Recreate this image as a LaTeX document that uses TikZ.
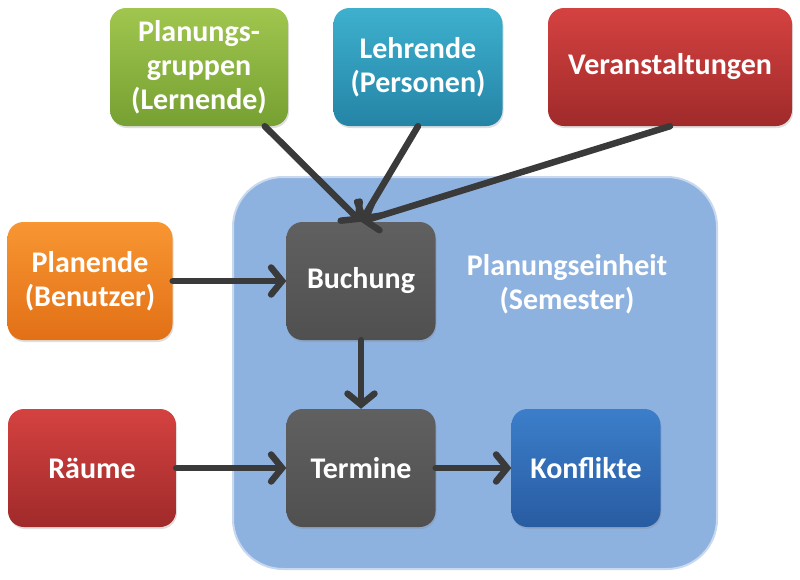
\documentclass[tikz,border=0pt]{standalone}
\usepackage{fontspec}
\setmainfont{Carlito}
\usepackage{tikz}
\usetikzlibrary{arrows.meta,positioning,shadows}
\definecolor{pgreenT}{RGB}{160,198,78}
\definecolor{pgreenB}{RGB}{118,160,50}
\definecolor{pcyanT}{RGB}{62,176,206}
\definecolor{pcyanB}{RGB}{36,132,166}
\definecolor{predT}{RGB}{212,66,64}
\definecolor{predB}{RGB}{160,42,42}
\definecolor{porangeT}{RGB}{248,150,50}
\definecolor{porangeB}{RGB}{226,112,22}
\definecolor{pgrayT}{RGB}{96,96,96}
\definecolor{pgrayB}{RGB}{80,80,80}
\definecolor{pblueT}{RGB}{60,126,202}
\definecolor{pblueB}{RGB}{40,92,162}
\definecolor{pregion}{RGB}{142,178,224}
\definecolor{pregionline}{RGB}{200,216,238}
\definecolor{parrow}{RGB}{58,58,58}

\begin{document}
\begin{tikzpicture}[x=1pt,y=-1pt,
  box/.style={rounded corners=16pt,minimum height=118pt,align=center,
    text=white,font=\fontsize{30}{34}\selectfont\bfseries,
    drop shadow={opacity=0.25,shadow xshift=1pt,shadow yshift=-2pt}},
  conn/.style={line width=6.5pt,parrow,line cap=round,
    -{Straight Barb[length=11pt,width=27pt,line cap=round,line width=6.5pt]}}]
  \useasboundingbox (0,0) rectangle (800,579);
  % Planungseinheit
  \node[draw=pregionline,line width=2pt,fill=pregion,rounded corners=50pt,
    minimum width=484pt,minimum height=392pt] (einheit) at (475,373) {};
  \node[text=white,align=center,font=\fontsize{30}{34}\selectfont\bfseries] (semester) at (567,284) {Planungseinheit\\(Semester)};
  % Quellen oben
  \node[box,minimum width=178pt,top color=pgreenT,bottom color=pgreenB] (gruppen) at (199,67) {Planungs-\\gruppen\\(Lernende)};
  \node[box,minimum width=169pt,top color=pcyanT,bottom color=pcyanB] (lehrende) at (418,67) {Lehrende\\(Personen)};
  \node[box,minimum width=244pt,top color=predT,bottom color=predB] (veranst) at (670,67) {Veranstaltungen};
  % Quellen links
  \node[box,minimum width=165pt,top color=porangeT,bottom color=porangeB] (planende) at (90,281) {Planende\\(Benutzer)};
  \node[box,minimum width=168pt,top color=predT,bottom color=predB] (raeume) at (92,468) {Räume};
  % innen
  \node[box,minimum width=149pt,top color=pgrayT,bottom color=pgrayB] (buchung) at (361,281) {Buchung};
  \node[box,minimum width=149pt,top color=pgrayT,bottom color=pgrayB] (termine) at (361,468) {Termine};
  \node[box,minimum width=149pt,top color=pblueT,bottom color=pblueB] (konflikte) at (586,468) {Konflikte};
  % Pfeile
  \draw[conn] (gruppen.-42) -- (buchung.north);
  \draw[conn] (lehrende.south) -- (buchung.north);
  \draw[conn] (veranst.south) -- (buchung.north);
  \draw[conn] (planende) -- (buchung);
  \draw[conn] (raeume) -- (termine);
  \draw[conn] (buchung) -- (termine);
  \draw[conn] (termine) -- (konflikte);
\end{tikzpicture}
\end{document}
